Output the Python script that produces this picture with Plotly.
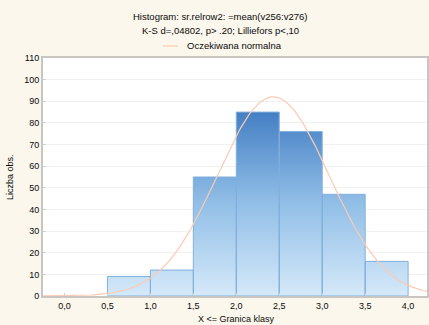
import math
import plotly.graph_objects as go

# ---- data ----
bin_edges = [0.5, 1.0, 1.5, 2.0, 2.5, 3.0, 3.5, 4.0]
counts = [9, 12, 55, 85, 76, 47, 16]
x_ticks = [0.0, 0.5, 1.0, 1.5, 2.0, 2.5, 3.0, 3.5, 4.0]
x_tick_labels = ["0,0", "0,5", "1,0", "1,5", "2,0", "2,5", "3,0", "3,5", "4,0"]
y_ticks = [0, 10, 20, 30, 40, 50, 60, 70, 80, 90, 100, 110]
normal_mean = 2.43
normal_sd = 0.65
n_obs = sum(counts)

FONT = "Liberation Sans, Arial, sans-serif"
BG = "#fbf7ec"
TXT = "#0a0a0a"
CURVE = "#fbcbb4"
W, H = 429, 325
ML, MR, MT, MB = 43, 2, 58, 29
PW, PH = W - ML - MR, H - MT - MB


def px_x(x):
    return (x - ML) / PW


def px_y(y):
    return (H - MB - y) / PH


fig = go.Figure()

# histogram bars as filled polygons (for vertical gradient)
bx, by = [], []
for i, c in enumerate(counts):
    x0, x1 = bin_edges[i], bin_edges[i + 1]
    bx += [x0, x0, x1, x1, x0, None]
    by += [0, c, c, 0, 0, None]
fig.add_trace(go.Scatter(
    x=bx, y=by, mode="lines", fill="toself",
    fillgradient=dict(type="vertical", start=0, stop=max(counts),
                      colorscale=[[0, "#d5e9f9"], [0.5, "#92bfe7"], [1, "#4580c4"]]),
    line=dict(color="#80afdd", width=1),
    showlegend=False, hoverinfo="skip",
))

# expected normal curve
bw = bin_edges[1] - bin_edges[0]
cx = [-0.25 + i * 0.02 for i in range(int(4.5 / 0.02) + 1)]
cy = [n_obs * bw / (normal_sd * math.sqrt(2 * math.pi)) *
      math.exp(-0.5 * ((v - normal_mean) / normal_sd) ** 2) for v in cx]
fig.add_trace(go.Scatter(
    x=cx, y=cy, mode="lines", line=dict(color=CURVE, width=1.2),
    name="Oczekiwana normalna", showlegend=False, hoverinfo="skip",
))

fig.update_layout(
    width=W, height=H,
    margin=dict(l=ML, r=MR, t=MT, b=MB, autoexpand=False),
    paper_bgcolor=BG, plot_bgcolor="white",
    font=dict(family=FONT, size=9, color=TXT),
    showlegend=False,
    shapes=[dict(type="line", xref="paper", yref="paper",
                 x0=px_x(163), x1=px_x(178), y0=px_y(46), y1=px_y(46),
                 line=dict(color=CURVE, width=1.2))],
    annotations=[
        dict(text="Histogram: sr.relrow2: =mean(v256:v276)", x=px_x(220), y=px_y(17),
             xref="paper", yref="paper", showarrow=False, yanchor="middle",
             font=dict(size=9.5)),
        dict(text="K-S d=,04802, p> .20; Lilliefors p<,10", x=px_x(220), y=px_y(31),
             xref="paper", yref="paper", showarrow=False, yanchor="middle",
             font=dict(size=9.5)),
        dict(text="Oczekiwana normalna", x=px_x(185), y=px_y(46), xanchor="left",
             xref="paper", yref="paper", showarrow=False, yanchor="middle",
             font=dict(size=9.5)),
        dict(text="X <= Granica klasy", x=px_x(236), y=px_y(319), xref="paper",
             yref="paper", showarrow=False, yanchor="middle"),
        dict(text="Liczba obs.", x=px_x(10), y=px_y(177), xref="paper", yref="paper",
             textangle=-90, showarrow=False, xanchor="center", yanchor="middle"),
    ],
)

fig.update_xaxes(
    range=[-0.25, 4.22], tickvals=x_ticks, ticktext=x_tick_labels,
    showgrid=False, zeroline=False, automargin=False,
    showline=True, linecolor="#c9c5c0", linewidth=2, mirror=True,
    ticks="inside", ticklen=3, tickcolor="#cfcfcf",
    tickfont=dict(size=9, family=FONT, color=TXT),
)
fig.update_yaxes(
    range=[0, 110], tickvals=y_ticks,
    showgrid=True, gridcolor="#f1f1f1", gridwidth=1, zeroline=False, automargin=False,
    showline=True, linecolor="#c9c5c0", linewidth=2, mirror=True,
    ticks="inside", ticklen=3, tickcolor="#cfcfcf",
    tickfont=dict(size=9, family=FONT, color=TXT),
)

fig.write_html(
    "out.html",
    config={"displayModeBar": False},
    post_script="document.body.style.margin='0';document.body.style.padding='0';"
                "document.body.style.background='" + BG + "';",
)
